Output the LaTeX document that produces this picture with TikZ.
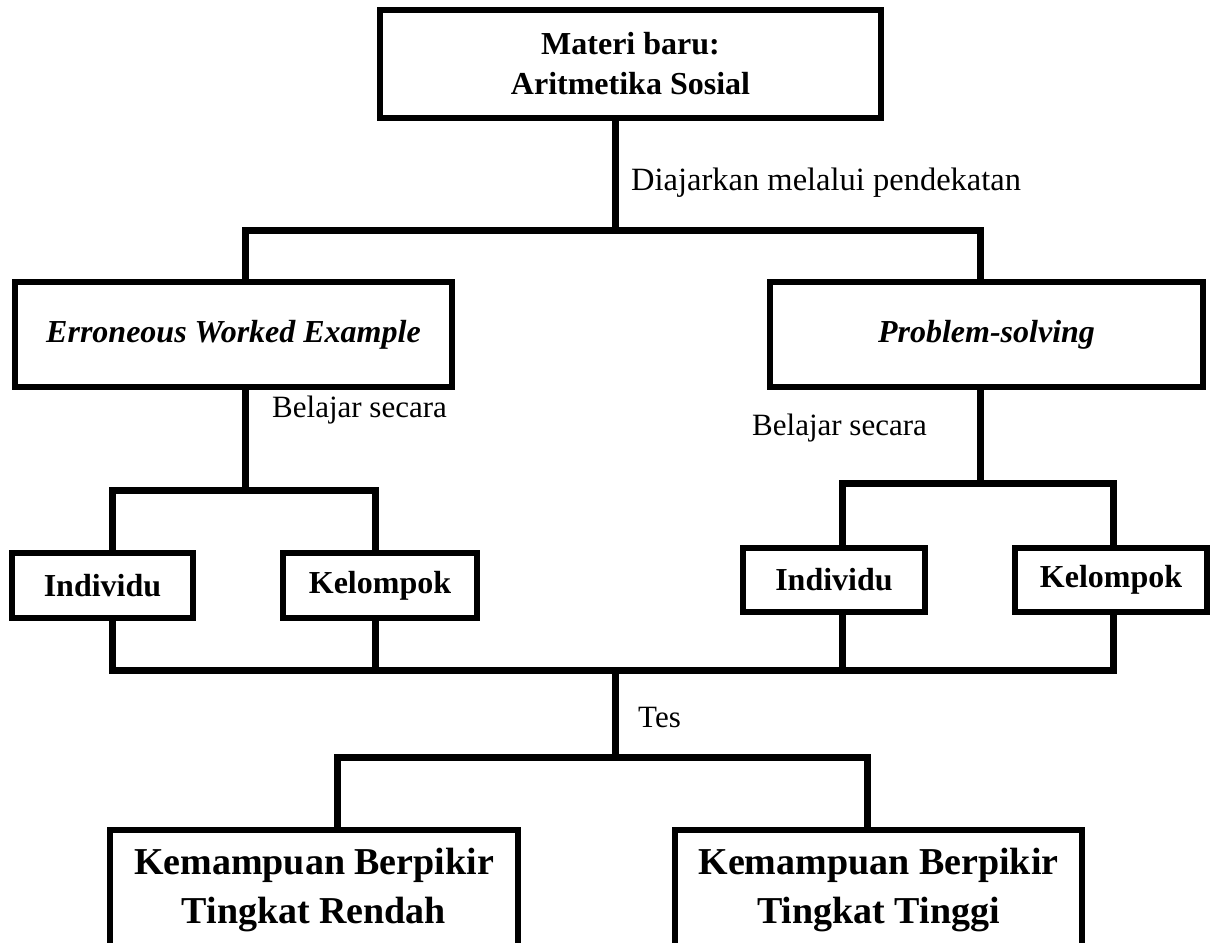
\documentclass[tikz,border=0pt]{standalone}
\usepackage{fontspec}
\setmainfont{Liberation Serif}
\usetikzlibrary{positioning,shadows}
\tikzset{bx/.style={draw,fill=white,line width=6pt,inner sep=0pt,outer sep=0pt,
align=center,font=\fontsize{32pt}{40pt}\selectfont\bfseries,
drop shadow={shadow xshift=3pt,shadow yshift=-3pt,opacity=0.2}},
lb/.style={anchor=west,inner sep=0pt,font=\fontsize{31pt}{36pt}\selectfont},
wr/.style={line width=7pt}}

\begin{document}
\begin{tikzpicture}[x=1pt,y=-1pt]
		\useasboundingbox (0,0) rectangle (1212,942);
		% kotak
		\node[bx,minimum width=501pt,minimum height=108pt] (mat) at (630.5,64) {Materi baru:\\Aritmetika Sosial};
		\node[bx,minimum width=437pt,minimum height=105pt] (ewe) at (233.5,334.5) {\textit{Erroneous Worked Example}};
		\node[bx,minimum width=433pt,minimum height=105pt] (ps) at (986.5,334.5) {\textit{Problem-solving}};
		\node[bx,minimum width=181pt,minimum height=65pt] (ind1) at (102.5,585.5) {Individu};
		\node[bx,minimum width=194pt,minimum height=65pt] (kel1) at (380,585.5) {Kelompok};
		\node[bx,minimum width=182pt,minimum height=64pt] (ind2) at (834,580) {Individu};
		\node[bx,minimum width=192pt,minimum height=64pt] (kel2) at (1111,580) {Kelompok};
		\node[bx,minimum width=408pt,minimum height=120pt,font=\fontsize{38pt}{49pt}\selectfont\bfseries] (rnd) at (314,890) {Kemampuan Berpikir\\Tingkat Rendah};
		\node[bx,minimum width=407pt,minimum height=120pt,font=\fontsize{38pt}{49pt}\selectfont\bfseries] (tgi) at (878.5,890) {Kemampuan Berpikir\\Tingkat Tinggi};
		% titik cabang
		\coordinate (a1) at (615,230);
		\coordinate (a2) at (245,230);
		\coordinate (a3) at (980,230);
		\coordinate (b1) at (245,490);
		\coordinate (b2) at (112,490);
		\coordinate (b3) at (375,490);
		\coordinate (c1) at (980,483);
		\coordinate (c2) at (842,483);
		\coordinate (c3) at (1113,483);
		\coordinate (d0) at (615,670);
		\coordinate (d1) at (112,670);
		\coordinate (d2) at (1113,670);
		\coordinate (e0) at (615,757);
		\coordinate (e1) at (337,757);
		\coordinate (e2) at (867,757);
		% garis
		\draw[wr] (mat.south -| a1) -- (a1);
		\draw[wr] (ewe.north -| a2) -- (a2) -- (a3) -- (ps.north -| a3);
		\draw[wr] (ewe.south -| b1) -- (b1);
		\draw[wr] (ind1.north -| b2) -- (b2) -- (b3) -- (kel1.north -| b3);
		\draw[wr] (ps.south -| c1) -- (c1);
		\draw[wr] (ind2.north -| c2) -- (c2) -- (c3) -- (kel2.north -| c3);
		\draw[wr] (ind1.south -| d1) -- (d1) -- (d2) -- (kel2.south -| d2);
		\draw[wr] (kel1.south -| b3) -- (b3 |- d1);
		\draw[wr] (ind2.south -| c2) -- (c2 |- d1);
		\draw[wr] (d0) -- (e0);
		\draw[wr] (rnd.north -| e1) -- (e1) -- (e2) -- (tgi.north -| e2);
		% keterangan
		\node[lb,font=\fontsize{32.5pt}{36pt}\selectfont] (l1) at (631,183) {Diajarkan melalui pendekatan};
		\node[lb] (l2) at (272,410) {Belajar secara};
		\node[lb] (l3) at (752,428) {Belajar secara};
		\node[lb] (l4) at (638,717) {Tes};
	\end{tikzpicture}
\end{document}
